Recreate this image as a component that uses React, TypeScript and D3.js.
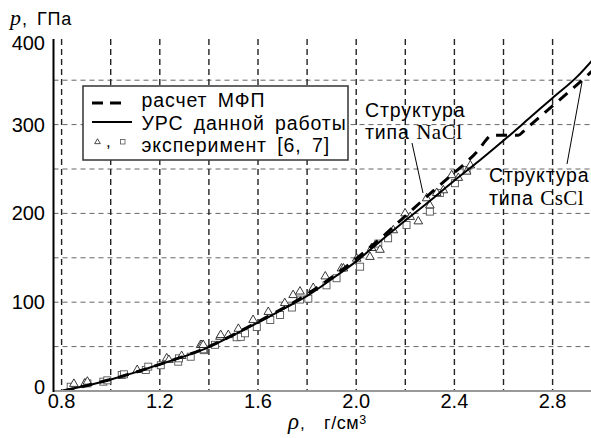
import React from "react";
import * as d3 from "d3";

// Equation of state of this work (solid curve)
const rhoEos = [0.805, 0.85, 0.9, 1.0, 1.1, 1.2, 1.3, 1.4, 1.5, 1.6, 1.7, 1.8, 1.9, 2.0, 2.1, 2.2, 2.3, 2.4, 2.5, 2.6, 2.7, 2.8, 2.9, 2.96];
const pEos = [0, 3, 6, 13, 21, 30, 39, 49.5, 63, 77, 92, 107, 126, 146, 169, 192, 214, 237, 259, 282, 306, 330, 354, 372];

// Mean-field-potential calculation (dashed curve), with the NaCl -> CsCl plateau
const rhoMfp = [0.805, 0.9, 1.0, 1.2, 1.4, 1.6, 1.8, 2.0, 2.1, 2.2, 2.3, 2.4, 2.45, 2.5, 2.53, 2.55, 2.66, 2.68, 2.7, 2.8, 2.9, 2.96];
const pMfp = [0, 6, 13, 30, 50, 78, 109, 149, 172, 197, 222, 246, 258, 272, 283, 288, 288, 292, 297, 321, 345, 360];

// Experimental data [6] (triangles)
const rhoTri = [0.85, 0.895, 0.905, 1.108, 1.228, 1.237, 1.289, 1.366, 1.371, 1.377, 1.445, 1.448, 1.479, 1.52, 1.58, 1.642, 1.709, 1.743, 1.771, 1.825, 1.874, 1.94, 1.948, 2.002, 2.056, 2.063, 2.097, 2.151, 2.199, 2.22, 2.253, 2.287, 2.3, 2.328, 2.355, 2.389, 2.416, 2.45, 2.465];
const pTri = [8, 8.6, 10.5, 23.6, 36.8, 35, 39.4, 51.8, 51.8, 51.8, 61, 63, 63, 70, 80, 89, 99, 108, 112, 116, 129, 138, 138, 149, 151, 161, 159, 181, 200, 196, 191, 217, 209, 223, 226, 243, 240, 247, 254];

// Experimental data [7] (squares)
const rhoSq = [0.837, 0.905, 0.97, 0.986, 1.045, 1.054, 1.143, 1.153, 1.204, 1.275, 1.278, 1.326, 1.38, 1.377, 1.425, 1.513, 1.53, 1.547, 1.595, 1.65, 1.69, 1.738, 1.771, 1.805, 1.879, 1.92, 2.016, 2.09, 2.13, 2.205, 2.3, 2.341, 2.402, 2.45];
const pSq = [4.8, 8.6, 10.5, 12, 18, 18.8, 23.6, 27.4, 29, 33, 36.8, 38.6, 46, 47, 52, 60.5, 61, 65, 72, 80, 85.6, 94, 103, 104, 119, 127, 140, 166, 172, 187, 202, 223, 234, 249];

const xTicksMajor = [0.8, 1.2, 1.6, 2.0, 2.4, 2.8];
const xGrid = [0.8, 1.0, 1.2, 1.4, 1.6, 1.8, 2.0, 2.2, 2.4, 2.6, 2.8];
const yTicksMajor = [0, 100, 200, 300, 400];
const yGrid = [50, 100, 150, 200, 250, 300, 350];

const W = 591;
const H = 438;
const left = 53.5;
const right = 591;
const top = 39;
const bottom = 391;

const sans = "'Liberation Sans', Arial, Helvetica, sans-serif";
const serif = "'Liberation Serif', 'Times New Roman', serif";

export default function App() {
  const x = d3.scaleLinear().domain([0.8, 2.8]).range([61.6, 552.6]);
  const y = d3.scaleLinear().domain([0, 350]).range([391, 80.2]);

  const line = d3
    .line<[number, number]>()
    .x((d) => x(d[0]))
    .y((d) => y(d[1]))
    .curve(d3.curveMonotoneX);

  const eosPath = line(rhoEos.map((r, i) => [r, pEos[i]] as [number, number])) || "";
  const mfpPath = line(rhoMfp.map((r, i) => [r, pMfp[i]] as [number, number])) || "";

  const tri = d3.symbol(d3.symbolTriangle, 32)() || "";
  const triSmall = d3.symbol(d3.symbolTriangle, 14)() || "";

  const clampY = (v: number) => Math.min(Math.max(y(v), top + 4), bottom - 4);

  return (
    <svg width={W} height={H} style={{ position: "absolute", left: 0, top: 0, background: "#fff" }}>
      <defs>
        <clipPath id="plot">
          <rect x={left} y={top} width={right - left} height={bottom - top} />
        </clipPath>
      </defs>

      {/* grid */}
      {yGrid.map((v) => (
        <line key={"hy" + v} x1={left} x2={right} y1={y(v)} y2={y(v)} stroke="#666" strokeWidth={1} strokeDasharray="5,4" />
      ))}
      {xGrid.map((v) => (
        <line key={"vx" + v} x1={x(v)} x2={x(v)} y1={top} y2={bottom} stroke="#222" strokeWidth={1.4} strokeDasharray="6,4" />
      ))}

      {/* experimental points and curves */}
      <g clipPath="url(#plot)">
        {rhoSq.map((r, i) => (
          <rect key={"s" + i} x={x(r) - 3.5} y={y(pSq[i]) - 3.5} width={7} height={7} fill="#fff" stroke="#555" strokeWidth={0.9} />
        ))}
        {rhoTri.map((r, i) => (
          <path key={"t" + i} d={tri} transform={`translate(${x(r)},${y(pTri[i])})`} fill="#fff" stroke="#222" strokeWidth={0.9} />
        ))}
        <path d={mfpPath} fill="none" stroke="#000" strokeWidth={3} strokeDasharray="11,8" />
        <path d={eosPath} fill="none" stroke="#000" strokeWidth={2} />
      </g>

      {/* axes */}
      <line x1={left} x2={right} y1={bottom} y2={bottom} stroke="#999" strokeWidth={2} />
      <line x1={left} x2={left} y1={top} y2={bottom + 1} stroke="#000" strokeWidth={2} />

      {xTicksMajor.map((v) => (
        <text key={"xt" + v} x={x(v)} y={408} textAnchor="middle" fontFamily={sans} fontSize={20} fill="#000">
          {v.toFixed(1)}
        </text>
      ))}
      {yTicksMajor.map((v) => (
        <text key={"yt" + v} x={45} y={clampY(v)} dy="0.35em" textAnchor="end" fontFamily={sans} fontSize={20} fill="#000">
          {v}
        </text>
      ))}

      {/* axis titles */}
      <text y={25} fill="#000">
        <tspan x={10} fontFamily={serif} fontStyle="italic" fontSize={22}>p</tspan>
        <tspan x={22} fontFamily={sans} fontSize={18}>,</tspan>
        <tspan x={37} fontFamily={sans} fontSize={18} letterSpacing={0.8}>ГПа</tspan>
      </text>
      <text y={429} fill="#000">
        <tspan x={288} fontFamily={serif} fontStyle="italic" fontSize={23}>ρ</tspan>
        <tspan x={300} fontFamily={sans} fontSize={17}>,</tspan>
        <tspan x={324} fontFamily={sans} fontSize={18} letterSpacing={0.6}>г/см</tspan>
        <tspan dy={-5} fontFamily={sans} fontSize={12.5}>3</tspan>
      </text>

      {/* legend */}
      <rect x={83} y={86} width={265} height={74} fill="#fff" stroke="#333" strokeWidth={1.5} />
      <line x1={92} x2={124} y1={103} y2={103} stroke="#000" strokeWidth={3} strokeDasharray="11,7" />
      <line x1={92} x2={132} y1={122} y2={122} stroke="#000" strokeWidth={2} />
      <path d={triSmall} transform="translate(97.5,142)" fill="#fff" stroke="#222" strokeWidth={0.8} />
      <text x={106} y={147} fontFamily={sans} fontSize={17} fill="#000">,</text>
      <rect x={120.5} y={139.5} width={4.5} height={4.5} fill="#fff" stroke="#555" strokeWidth={0.8} />
      <g fontFamily={sans} fontSize={19.5} fill="#000" letterSpacing={0.9} style={{ wordSpacing: "4px" }}>
        <text x={141.5} y={107}>расчет МФП</text>
        <text x={141.5} y={130}>УРС данной работы</text>
        <text x={141.5} y={152}>эксперимент [6, 7]</text>
      </g>

      {/* phase annotations */}
      <g fontFamily={sans} fontSize={19.5} fill="#000" letterSpacing={0.9}>
        <text x={365} y={117}>Структура</text>
        <text x={365} y={139}>
          типа <tspan fontFamily={serif} fontSize={21} letterSpacing={0.5}>NaCl</tspan>
        </text>
        <text x={489} y={182}>Структура</text>
        <text x={489} y={205}>
          типа <tspan fontFamily={serif} fontSize={21} letterSpacing={0.5}>CsCl</tspan>
        </text>
      </g>
      <line x1={412} y1={143} x2={423} y2={193} stroke="#000" strokeWidth={1} />
      <line x1={567} y1={164} x2={582} y2={82} stroke="#000" strokeWidth={1} />
    </svg>
  );
}
